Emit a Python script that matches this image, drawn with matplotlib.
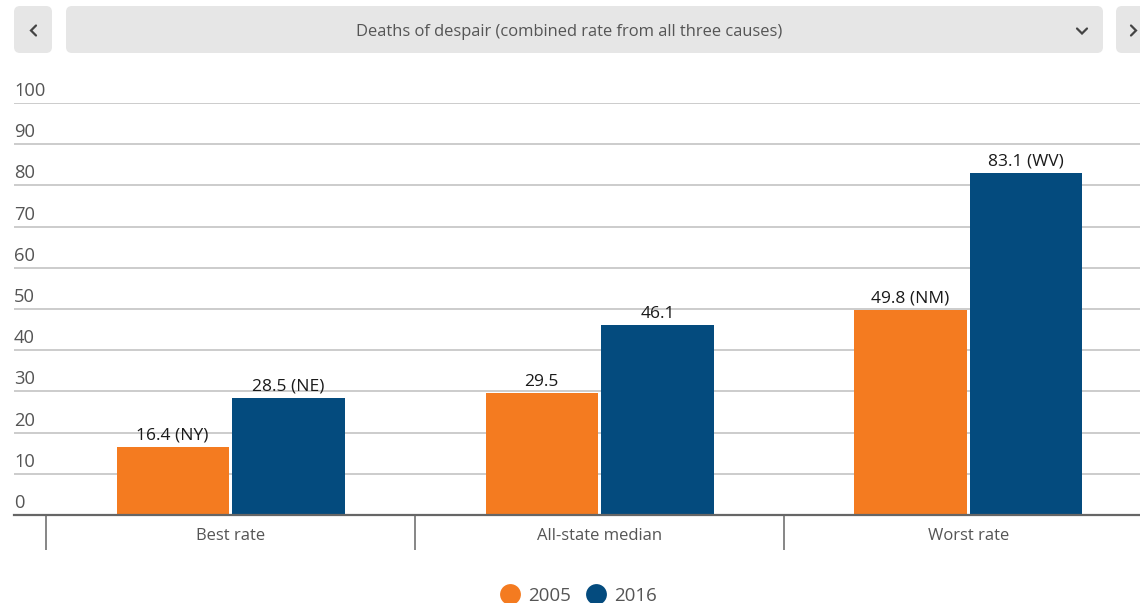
import matplotlib
matplotlib.use("Agg")
import matplotlib.pyplot as plt
from matplotlib.patches import FancyBboxPatch
from matplotlib.lines import Line2D
import matplotlib.transforms as mtransforms
import numpy as np

plt.rcParams['font.family'] = ['Open Sans', 'DejaVu Sans']

title = "Deaths of despair (combined rate from all three causes)"
categories = ["Best rate", "All-state median", "Worst rate"]
series_names = ["2005", "2016"]
values_2005 = [16.4, 29.5, 49.8]
values_2016 = [28.5, 46.1, 83.1]
labels_2005 = ["16.4 (NY)", "29.5", "49.8 (NM)"]
labels_2016 = ["28.5 (NE)", "46.1", "83.1 (WV)"]
yticks = [0, 10, 20, 30, 40, 50, 60, 70, 80, 90, 100]

ORANGE = "#f47b20"
BLUE = "#044b7e"
GRID = "#c8c8c8"
TXT = "#555555"

W, H = 1140, 603
fig = plt.figure(figsize=(W / 100, H / 100), dpi=100)

# UI overlay (pixel coordinates)
ui = fig.add_axes([0, 0, 1, 1])
ui.set_xlim(0, W)
ui.set_ylim(H, 0)
ui.axis("off")
for (x0, x1) in [(14, 52), (66, 1103), (1116, 1160)]:
    ui.add_patch(FancyBboxPatch((x0, 6), x1 - x0, 47,
                                boxstyle="round,pad=0,rounding_size=6",
                                fc="#e6e6e6", ec="none"))
ui.text(569, 32, title, ha="center", va="center", fontsize=11.9, color=TXT)
chev = dict(color="#444444", lw=1.6, solid_capstyle="round", solid_joinstyle="miter")
ui.plot([36, 31, 36], [25.5, 30.5, 35.5], **chev)
ui.plot([1077, 1082, 1087], [28.5, 33.5, 28.5], **chev)
ui.plot([1131, 1136, 1131], [25.5, 30.5, 35.5], **chev)

# Main chart
ax = fig.add_axes([14 / W, 1 - 515 / H, 1 - 14 / W, (515 - 103) / H])
x = np.arange(len(categories))
bw = 0.304
off = 0.157
b1 = ax.bar(x - off, values_2005, bw, color=ORANGE, zorder=3)
b2 = ax.bar(x + off, values_2016, bw, color=BLUE, zorder=3)

for bars, labs in [(b1, labels_2005), (b2, labels_2016)]:
    for rect, lab in zip(bars, labs):
        ax.annotate(lab, (rect.get_x() + rect.get_width() / 2, rect.get_height()),
                    xytext=(0, 2.5), textcoords="offset points",
                    ha="center", va="bottom", fontsize=12.5, color="#1a1a1a")

ax.set_xlim(-0.587, 2.465)
ax.set_ylim(0, 100)

for v in yticks[1:]:
    ax.axhline(v, color=GRID, lw=1.3, zorder=1)

trans = mtransforms.blended_transform_factory(ax.transAxes, ax.transData)
offs = mtransforms.offset_copy(trans, fig=fig, x=0, y=3, units="dots")
for v in yticks:
    ax.text(0, v, str(v), transform=offs, ha="left", va="bottom", fontsize=13.2, color=TXT)

ax.set_yticks([])
ax.set_xticks(x)
ax.set_xticklabels(categories, fontsize=12, color=TXT)
ax.tick_params(axis="x", which="major", length=0, pad=9)
ax.set_xticks([-0.5, 0.5, 1.5], minor=True)
ax.tick_params(axis="x", which="minor", length=25, width=1.1, color="#666666", direction="out")

for s in ["top", "right", "left"]:
    ax.spines[s].set_visible(False)
ax.spines["bottom"].set_color("#666666")
ax.spines["bottom"].set_linewidth(1.6)
ax.spines["bottom"].set_zorder(4)

handles = [Line2D([], [], marker="o", ls="none", markersize=15, color=c, markeredgewidth=0)
           for c in (ORANGE, BLUE)]
fig.legend(handles, series_names, loc="center", bbox_to_anchor=(578 / W, 1 - 596 / H),
           ncol=2, frameon=False, fontsize=13.5, labelcolor=TXT, handletextpad=0.35,
           columnspacing=0.75, handlelength=1.2)

fig.savefig("out.png", dpi=100)
